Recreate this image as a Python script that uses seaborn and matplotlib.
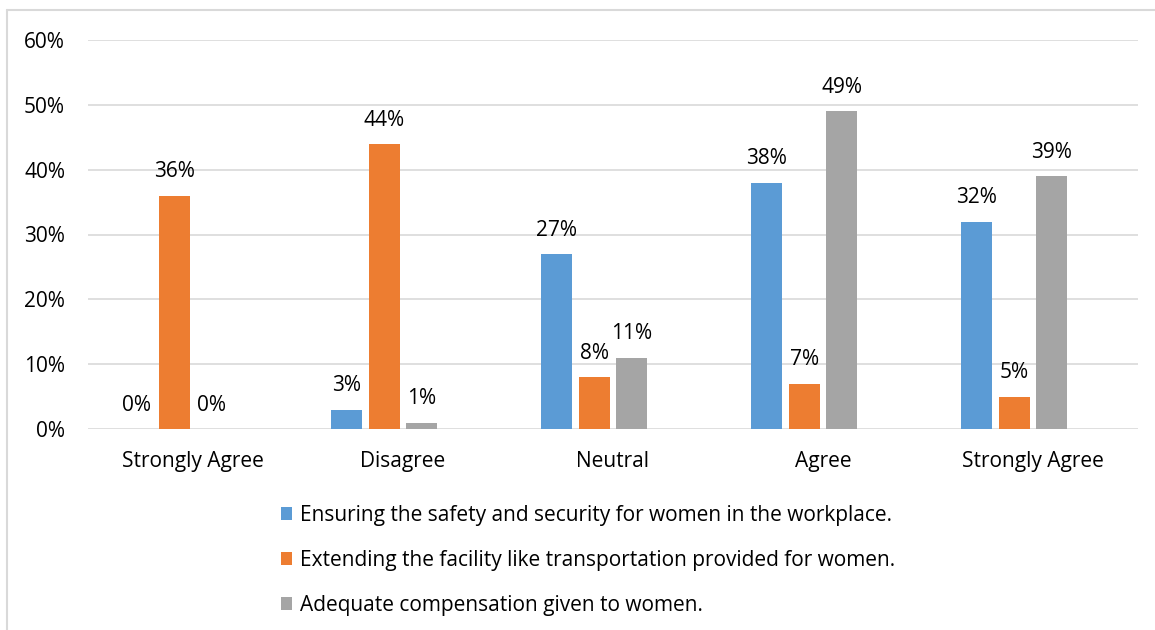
import pandas as pd
import matplotlib.pyplot as plt
from matplotlib.lines import Line2D
import seaborn as sns

# chart data
categories = ['Strongly Agree', 'Disagree', 'Neutral', 'Agree', 'Strongly Agree']
series_names = ['Ensuring the safety and security for women in the workplace.',
                'Extending the facility like transportation provided for women.',
                'Adequate compensation given to women.']
safety = [0.00, 0.03, 0.27, 0.38, 0.32]
transport = [0.36, 0.44, 0.08, 0.07, 0.05]
compensation = [0.00, 0.01, 0.11, 0.49, 0.39]
colors = ['#5B9BD5', '#ED7D31', '#A5A5A5', '#FFFFFF']

sns.set_theme(style='white')
plt.rcParams['font.family'] = ['Open Sans', 'DejaVu Sans']
FS = 15
TXT = '#000000'

# long form table, an empty 4th series keeps the excel spacing
rows = []
for name, vals in zip(series_names + ['pad'], [safety, transport, compensation, [0] * 5]):
    for i, v in enumerate(vals):
        rows.append({'cat': i, 'value': v, 'series': name})
df = pd.DataFrame(rows)

fig = plt.figure(figsize=(11.55, 6.3), dpi=100)
ax = fig.add_axes([88 / 1155, 1 - 429 / 630, 1050 / 1155, 389 / 630])

sns.barplot(data=df, x='cat', y='value', hue='series',
            hue_order=series_names + ['pad'], palette=colors, saturation=1,
            width=0.716, gap=0.173, linewidth=0, legend=False, ax=ax)

ax.set_ylim(0, 0.6)
ax.set_yticks([0, 0.1, 0.2, 0.3, 0.4, 0.5, 0.6])
ax.set_yticklabels(['0%', '10%', '20%', '30%', '40%', '50%', '60%'], fontsize=FS)
ax.set_xticks(range(len(categories)))
ax.set_xticklabels(categories, fontsize=FS)
ax.set_xlim(-0.5, 4.5)
ax.set_xlabel('')
ax.set_ylabel('')
ax.yaxis.grid(True, color='#d9d9d9', linewidth=1.2)
ax.set_axisbelow(True)
for s in ax.spines.values():
    s.set_visible(False)
ax.tick_params(axis='both', length=0, colors=TXT)
ax.tick_params(axis='y', pad=16.5)
ax.tick_params(axis='x', pad=16)

# data labels
for cont in ax.containers[:3]:
    for bar in cont:
        h = bar.get_height()
        ax.annotate('{:.0f}%'.format(h * 100),
                    (bar.get_x() + bar.get_width() / 2, h),
                    xytext=(0, 9.5), textcoords='offset points',
                    ha='center', va='bottom', fontsize=FS, color=TXT)

# legend below the plot
leg = fig.legend(ax.containers[:3], series_names, loc='upper left',
                 bbox_to_anchor=(281 / 1155, 1 - 505 / 630), frameon=False,
                 fontsize=FS, ncol=1, handlelength=0.55, handleheight=0.55,
                 handletextpad=0.35, labelspacing=1.15, borderpad=0,
                 borderaxespad=0)
for t in leg.get_texts():
    t.set_color(TXT)

# chart border (left and top edges visible)
fig.add_artist(Line2D([7 / 1155, 7 / 1155], [0, 1 - 10 / 630],
                      color='#d9d9d9', linewidth=1.5))
fig.add_artist(Line2D([7 / 1155, 1], [1 - 10 / 630, 1 - 10 / 630],
                      color='#d9d9d9', linewidth=1.5))

plt.savefig('out.png', dpi=100)
